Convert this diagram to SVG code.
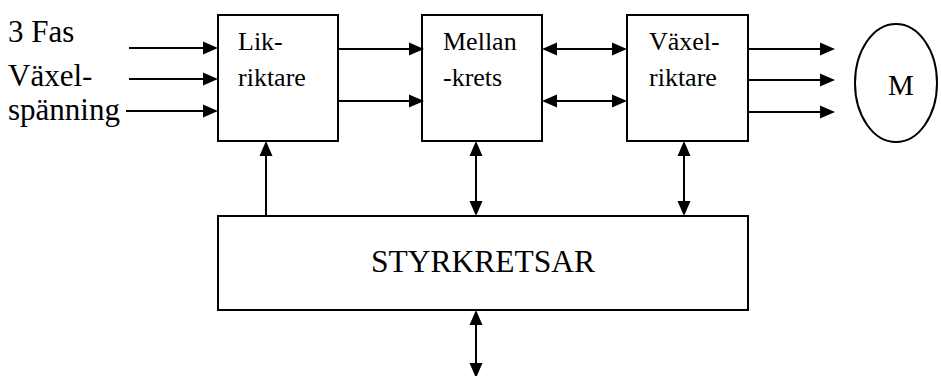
<svg xmlns="http://www.w3.org/2000/svg" width="941" height="376" viewBox="0 0 941 376">
  <style>
    .box { fill: #ffffff; stroke: #000000; stroke-width: 2; }
    .wire { stroke: #000000; stroke-width: 2; fill: none; }
    .one { marker-end: url(#head); }
    .two { marker-start: url(#head); marker-end: url(#head); }
    text { font-family: "Liberation Serif", "Times New Roman", serif; fill: #000000; }
    .in { font-size: 31px; }
    .lbl { font-size: 26px; }
    .big { font-size: 31.5px; }
    .mot { font-size: 29px; }
  </style>
  <defs>
    <!-- solid triangular head; lines stop 5px short of the tip -->
    <marker id="head" markerUnits="userSpaceOnUse" markerWidth="16" markerHeight="14" viewBox="0 0 16 14" refX="10" refY="7" orient="auto-start-reverse">
      <path d="M0,0.5 L15,7 L0,13.5 z" fill="#000000"/>
    </marker>
  </defs>
  <rect width="941" height="376" fill="#ffffff"/>

  <!-- supply label -->
  <g id="input-label">
    <text class="in" x="8" y="42">3 Fas</text>
    <text class="in" x="8" y="86">Växel-</text>
    <text class="in" x="8" y="120">spänning</text>
  </g>

  <g id="likriktare">
    <rect class="box" x="218" y="15" width="120" height="126"/>
    <text class="lbl" x="238" y="50">Lik-</text>
    <text class="lbl" x="238" y="86">riktare</text>
  </g>

  <g id="mellankrets">
    <rect class="box" x="422" y="15" width="120" height="126"/>
    <text class="lbl" x="443" y="50">Mellan</text>
    <text class="lbl" x="443" y="86">-krets</text>
  </g>

  <g id="vaxelriktare">
    <rect class="box" x="627" y="15" width="121" height="126"/>
    <text class="lbl" x="649" y="50">Växel-</text>
    <text class="lbl" x="649" y="86">riktare</text>
  </g>

  <g id="motor">
    <ellipse class="box" cx="896" cy="83" rx="41" ry="59"/>
    <text class="mot" x="901" y="95" text-anchor="middle">M</text>
  </g>

  <g id="styrkretsar">
    <rect class="box" x="218" y="216" width="530" height="94"/>
    <text class="big" x="483" y="272" text-anchor="middle">STYRKRETSAR</text>
  </g>

  <g id="connectors">
    <!-- three-phase input -->
    <line class="wire one" x1="129" y1="48" x2="213" y2="48"/>
    <line class="wire one" x1="129" y1="79" x2="213" y2="79"/>
    <line class="wire one" x1="126" y1="111" x2="213" y2="111"/>
    <!-- DC link -->
    <line class="wire one" x1="338" y1="49" x2="419" y2="49"/>
    <line class="wire one" x1="338" y1="101" x2="419" y2="101"/>
    <!-- intermediate circuit to inverter -->
    <line class="wire two" x1="547" y1="49" x2="622" y2="49"/>
    <line class="wire two" x1="547" y1="101" x2="622" y2="101"/>
    <!-- inverter to motor -->
    <line class="wire one" x1="748" y1="49" x2="830" y2="49"/>
    <line class="wire one" x1="748" y1="80" x2="830" y2="80"/>
    <line class="wire one" x1="748" y1="112" x2="830" y2="112"/>
    <!-- control links -->
    <line class="wire one" x1="266" y1="216" x2="266" y2="146"/>
    <line class="wire two" x1="476" y1="146" x2="476" y2="211"/>
    <line class="wire two" x1="684" y1="146" x2="684" y2="211"/>
    <line class="wire two" x1="476" y1="315" x2="476" y2="373"/>
  </g>
</svg>
